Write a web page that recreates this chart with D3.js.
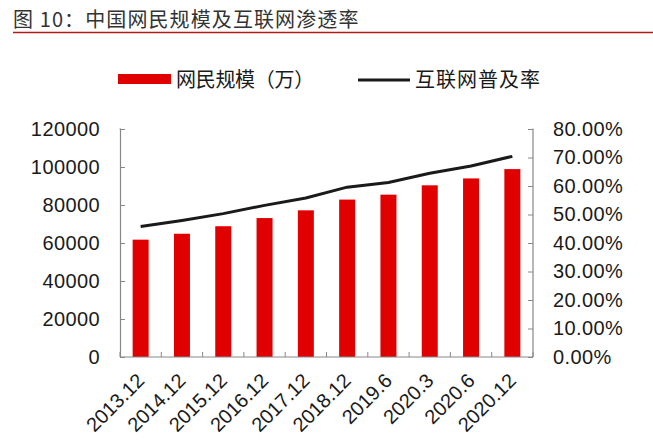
<!DOCTYPE html>
<html><head><meta charset="utf-8">
<script src="https://cdn.jsdelivr.net/npm/d3@7"></script>
<style>body{margin:0;background:#fff;}svg{display:block;font-family:"Liberation Sans",Arial,sans-serif;}</style>
</head><body>
<svg id="c" width="653" height="444"></svg>
<script>
const categories = ["2013.12","2014.12","2015.12","2016.12","2017.12","2018.12","2019.6","2020.3","2020.6","2020.12"];
const users = [61758,64875,68826,73125,77198,82851,85449,90359,93984,98899];
const penetration = [0.458,0.479,0.503,0.532,0.558,0.596,0.612,0.645,0.670,0.704];
const leftTicks = [0,20000,40000,60000,80000,100000,120000];
const rightTicks = [0,0.1,0.2,0.3,0.4,0.5,0.6,0.7,0.8];
const title = "图 10：中国网民规模及互联网渗透率";
const legendBar = "网民规模（万）";
const legendLine = "互联网普及率";

const svg = d3.select("#c");
const m = {l:120, r:533, t:129, b:357};
const xb = d3.scaleBand().domain(categories).range([m.l, m.r]);
const yL = d3.scaleLinear().domain([0,120000]).range([m.b, m.t]);
const yR = d3.scaleLinear().domain([0,0.8]).range([m.b, m.t]);
const cx = c => xb(c) + xb.bandwidth()/2;

// title
svg.append("text").attr("x",13).attr("y",27).attr("font-size",20).attr("letter-spacing",1.1).attr("fill","#333")
  .attr("font-family","'Noto Sans CJK SC',sans-serif").text(title);
svg.append("line").attr("x1",13).attr("x2",653).attr("y1",32.5).attr("y2",32.5).attr("stroke","#b51a1a").attr("stroke-width",1.5);

// bars
svg.selectAll("rect.bar").data(users).join("rect").attr("class","bar")
  .attr("x",(d,i)=>cx(categories[i]) - 8)
  .attr("width",16)
  .attr("y",d=>yL(d)).attr("height",d=>m.b-yL(d)).attr("fill","#e00000");

// line
const line = d3.line().x((d,i)=>cx(categories[i])).y(d=>yR(d));
svg.append("path").datum(penetration).attr("d",line).attr("fill","none").attr("stroke","#1a1a1a").attr("stroke-width",3);

// axes
const axisColor = "#888";
const gL = svg.append("g").attr("transform",`translate(${m.l},0)`)
  .call(d3.axisLeft(yL).tickValues(leftTicks).tickSize(-5).tickPadding(20).tickFormat(d3.format("d")));
const gR = svg.append("g").attr("transform",`translate(${m.r},0)`)
  .call(d3.axisRight(yR).tickValues(rightTicks).tickSize(-5).tickPadding(20).tickFormat(d3.format(".2%")));
const gX = svg.append("g").attr("transform",`translate(0,${m.b})`)
  .call(d3.axisBottom(xb).tickSize(0).tickFormat(""));
const bounds = categories.map(c=>xb(c)).concat([m.r]);
svg.selectAll("line.xt").data(bounds).join("line").attr("class","xt")
  .attr("x1",d=>d).attr("x2",d=>d).attr("y1",m.b).attr("y2",m.b-5).attr("stroke",axisColor);
[gL,gR,gX].forEach(g=>{
  g.selectAll("path.domain").attr("stroke",axisColor).attr("stroke-width",1.2);
  g.selectAll(".tick line").attr("stroke",axisColor);
  g.selectAll("text").attr("font-size",20).attr("letter-spacing",0.4).attr("fill","#1a1a1a").attr("font-family","'Liberation Sans',Arial,sans-serif");
});
gL.select("path.domain").attr("d",`M-0.5,${m.t}H0.5V${m.b}H0`);
gR.select("path.domain").attr("d",`M-0.5,${m.t}H0V${m.b}`);
gX.select("path.domain").attr("d",`M${m.l},0H${m.r}`);

// x labels rotated
svg.selectAll("text.xl").data(categories).join("text").attr("class","xl")
  .attr("transform",d=>`translate(${cx(d)+5},${m.b+25}) rotate(-45)`)
  .attr("text-anchor","end").attr("font-size",20).attr("fill","#1a1a1a")
  .attr("font-family","'Liberation Sans',Arial,sans-serif").text(d=>d);

// legend
svg.append("rect").attr("x",118).attr("y",74).attr("width",53).attr("height",10).attr("fill","#e00000");
svg.append("text").attr("x",176).attr("y",87).attr("font-size",20).attr("letter-spacing",-0.3).attr("fill","#1a1a1a")
  .attr("font-family","'Noto Sans CJK SC',sans-serif").text(legendBar);
svg.append("line").attr("x1",358).attr("x2",410).attr("y1",80).attr("y2",80).attr("stroke","#1a1a1a").attr("stroke-width",3);
svg.append("text").attr("x",415).attr("y",87).attr("font-size",20).attr("letter-spacing",1).attr("fill","#1a1a1a")
  .attr("font-family","'Noto Sans CJK SC',sans-serif").text(legendLine);
</script>
</body></html>
